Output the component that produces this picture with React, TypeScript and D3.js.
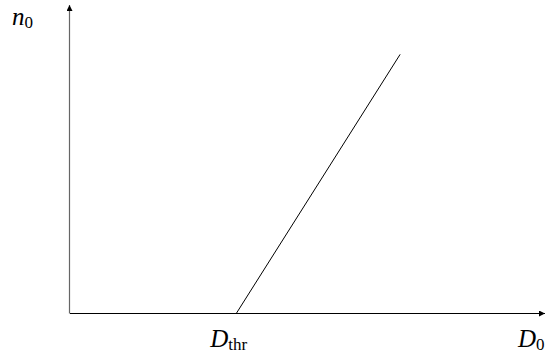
import React from "react";
import * as d3 from "d3";

// Piecewise-linear response: zero below the threshold, linear above it
const dValues = [0, 3.5, 6.95];
const nValues = [0, 0, 8.4];
const axisLabels = { x: "D", xSub: "0", y: "n", ySub: "0", thr: "D", thrSub: "thr" };

const W = 548;
const H = 359;

export default function App() {
  const x = d3.scaleLinear().domain([0, 10]).range([70, 545]);
  const y = d3.scaleLinear().domain([0, 10]).range([313.5, 5]);

  const pts = dValues.map((d, i) => [x(d), y(nValues[i])] as [number, number]);
  const path = d3.line()(pts) ?? "";

  const x0 = x(0);
  const y0 = y(0);
  const xEnd = x(10);
  const yEnd = y(10);
  const font = "'Liberation Serif', 'Times New Roman', serif";
  const big = 25;
  const small = 17;

  return (
    <svg
      width={W}
      height={H}
      style={{ position: "absolute", left: 0, top: 0, background: "#fff" }}
    >
      <defs>
        <marker id="arr" viewBox="0 0 10 10" refX="10" refY="5" markerWidth="7" markerHeight="6" markerUnits="userSpaceOnUse" orient="auto">
          <path d="M0,0 L10,5 L0,10 z" fill="#000" />
        </marker>
      </defs>
      {/* axes */}
      <line x1={x0} y1={y0} x2={xEnd} y2={y0} stroke="#000" strokeWidth={1} markerEnd="url(#arr)" />
      <line x1={x0 - 0.5} y1={y0} x2={x0 - 0.5} y2={yEnd} stroke="#000" strokeWidth={1.2} strokeOpacity={0.6} markerEnd="url(#arr)" />
      {/* response curve */}
      <path d={path} fill="none" stroke="#000" strokeWidth={1} />
      {/* labels */}
      <text x={12} y={25} fontFamily={font} fontSize={big} fill="#000">
        <tspan fontStyle="italic">{axisLabels.y}</tspan>
        <tspan fontSize={small} dy={3}>{axisLabels.ySub}</tspan>
      </text>
      <text x={x(dValues[1]) - 26} y={347} fontFamily={font} fontSize={big} fill="#000">
        <tspan fontStyle="italic">{axisLabels.thr}</tspan>
        <tspan fontSize={small} dy={3}>{axisLabels.thrSub}</tspan>
      </text>
      <text x={518} y={347} fontFamily={font} fontSize={big} fill="#000">
        <tspan fontStyle="italic">{axisLabels.x}</tspan>
        <tspan fontSize={small} dy={3}>{axisLabels.xSub}</tspan>
      </text>
    </svg>
  );
}
